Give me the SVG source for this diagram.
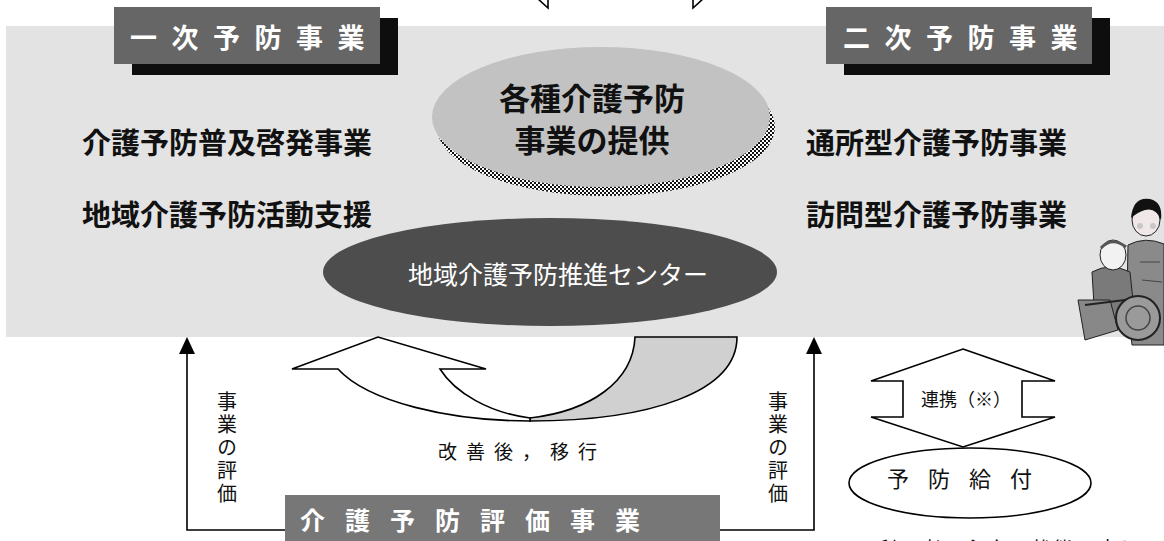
<svg xmlns="http://www.w3.org/2000/svg" width="1164" height="541" viewBox="0 0 1164 541">
  <style>
    .jp { font-family: "Noto Sans CJK JP", "Noto Sans", sans-serif; }
    .title { font-size: 27px; font-weight: bold; fill: #ffffff; letter-spacing: 14.5px; }
    .label { font-size: 29px; font-weight: bold; fill: #111111; }
    .vert { font-size: 20px; fill: #111111; writing-mode: vertical-rl; letter-spacing: 3px; }
    .line { stroke: #000000; stroke-width: 1.6; fill: none; }
    .shape { stroke: #000000; stroke-width: 1.6; }
  </style>
  <defs>
    <pattern id="dots" width="4" height="4" patternUnits="userSpaceOnUse">
      <rect width="4" height="4" fill="#ffffff"/>
      <rect x="0" y="0" width="2" height="2" fill="#111111"/>
      <rect x="2" y="2" width="2" height="2" fill="#111111"/>
    </pattern>
  </defs>

  <!-- open arrow ends coming from above -->
  <g id="top-arrows">
    <polyline class="line" points="537,-2 548,8 548,-2"/>
    <polyline class="line" points="693,-2 693,8 704,-2"/>
  </g>

  <!-- shared panel -->
  <rect id="panel" x="6" y="26" width="1160" height="311" fill="#e3e3e3"/>

  <!-- primary prevention header -->
  <g id="primary-header">
    <rect x="132" y="18" width="266" height="57" fill="#0e0e0e"/>
    <rect x="114" y="7" width="266" height="57" fill="#666666"/>
    <text class="jp title" x="130" y="48">一次予防事業</text>
  </g>

  <!-- secondary prevention header -->
  <g id="secondary-header">
    <rect x="844" y="18" width="266" height="57" fill="#0e0e0e"/>
    <rect x="826" y="7" width="266" height="57" fill="#666666"/>
    <text class="jp title" x="843" y="48">二次予防事業</text>
  </g>

  <!-- service provision ellipse -->
  <g id="provision">
    <ellipse cx="606" cy="127" rx="169" ry="69" fill="url(#dots)"/>
    <ellipse cx="601" cy="117" rx="169" ry="70" fill="#c2c2c2"/>
    <text class="jp" x="592" y="110" font-size="31" font-weight="bold" text-anchor="middle" fill="#111111">各種介護予防</text>
    <text class="jp" x="592" y="152" font-size="31" font-weight="bold" text-anchor="middle" fill="#111111">事業の提供</text>
  </g>

  <!-- programme labels -->
  <g id="primary-items">
    <text class="jp label" x="82" y="154">介護予防普及啓発事業</text>
    <text class="jp label" x="82" y="226">地域介護予防活動支援</text>
  </g>
  <g id="secondary-items">
    <text class="jp label" x="806" y="154">通所型介護予防事業</text>
    <text class="jp label" x="806" y="226">訪問型介護予防事業</text>
  </g>

  <!-- promotion centre -->
  <g id="centre">
    <ellipse cx="550" cy="272" rx="227" ry="54" fill="#4d4d4d"/>
    <text class="jp" x="558" y="284" font-size="25" text-anchor="middle" fill="#ffffff">地域介護予防推進センター</text>
  </g>

  <!-- caregiver with wheelchair user -->
  <g id="figure">
    <!-- caregiver -->
    <path d="M1128,245 Q1145,236 1164,244 L1164,345 L1132,345 Q1126,300 1128,245 Z" fill="#8a8a8a" stroke="#222" stroke-width="1"/>
    <path d="M1140,262 L1160,262 M1142,280 L1162,282" stroke="#444" stroke-width="1"/>
    <ellipse cx="1146" cy="220" rx="14" ry="16" fill="#f0e8e8" stroke="#222" stroke-width="1"/>
    <path d="M1131,218 Q1133,196 1150,199 Q1163,202 1161,220 Q1156,207 1145,210 Q1138,212 1131,218 Z" fill="#111111"/>
    <circle cx="1140" cy="226" r="3" fill="#c8c8c8"/>
    <circle cx="1153" cy="226" r="3" fill="#c8c8c8"/>
    <!-- wheelchair user -->
    <path d="M1092,272 Q1110,262 1130,272 L1135,320 L1095,322 Z" fill="#7a7a7a" stroke="#222" stroke-width="1"/>
    <ellipse cx="1113" cy="255" rx="13" ry="15" fill="#f2f2f2" stroke="#222" stroke-width="1"/>
    <path d="M1101,248 Q1112,236 1126,247" fill="none" stroke="#555" stroke-width="3"/>
    <path d="M1078,300 L1110,300 L1118,330 L1085,340 Z" fill="#888888" stroke="#222" stroke-width="1"/>
    <circle cx="1138" cy="318" r="22" fill="#9a9a9a" stroke="#222" stroke-width="2"/>
    <circle cx="1138" cy="318" r="12" fill="none" stroke="#444" stroke-width="1.5"/>
    <line x1="1085" y1="305" x2="1125" y2="300" stroke="#222" stroke-width="2"/>
  </g>

  <!-- improvement / transfer U-turn arrow -->
  <g id="transfer">
    <path class="shape" fill="#d0d0d0" d="M530,418 C590,411 633,382 635,337 L737,337 C737,392 650,421 530,421 Z"/>
    <path class="shape" fill="#ffffff" d="M338,369 L292,369 L378,337 L486,369 L440,369 C455,393 490,413 530,418 L530,421 C450,421 368,402 338,369 Z"/>
    <text class="jp" x="438" y="459" font-size="19" letter-spacing="9" fill="#111111">改善後，移行</text>
  </g>

  <!-- evaluation programme -->
  <g id="evaluation">
    <rect x="285" y="495" width="435" height="50" fill="#777777"/>
    <text class="jp" x="300" y="530" font-size="25" font-weight="bold" letter-spacing="20" fill="#ffffff">介護予防評価事業</text>
  </g>

  <!-- evaluation feedback connectors -->
  <g id="connectors">
    <polyline class="line" points="285,530 187,530 187,350" stroke-width="2"/>
    <polyline class="line" points="720,530 814,530 814,350" stroke-width="2"/>
    <path d="M187,337 L179,354 L195,354 Z" fill="#000"/>
    <path d="M814,337 L806,354 L822,354 Z" fill="#000"/>
  </g>

  <text id="eval-label-left" class="jp vert" x="227" y="391">事業の評価</text>
  <text id="eval-label-right" class="jp vert" x="778" y="391">事業の評価</text>

  <!-- cooperation double arrow -->
  <g id="cooperation">
    <path class="shape" fill="#ffffff" d="M963,349 L1055,381 L1022,381 L1022,417 L1055,417 L963,447 L871,417 L903,417 L903,381 L871,381 Z"/>
    <text class="jp" x="966" y="406" font-size="18" text-anchor="middle" fill="#111111">連携（※）</text>
  </g>

  <!-- preventive benefits -->
  <g id="benefits">
    <ellipse class="shape" cx="970" cy="483" rx="121" ry="35" fill="#ffffff"/>
    <text class="jp" x="887" y="487" font-size="22" letter-spacing="19" fill="#111111">予防給付</text>
  </g>

  <!-- footnote -->
  <text id="footnote" class="jp" x="833" y="557" font-size="20" letter-spacing="2" fill="#111111">※　利用者の心身の状態に応じて</text>
</svg>
